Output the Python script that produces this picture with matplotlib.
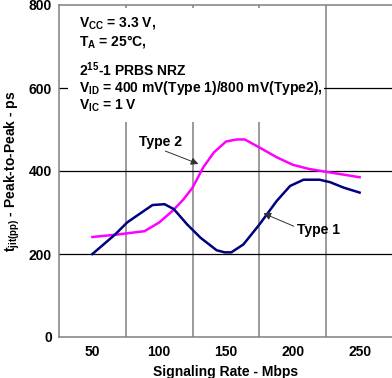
import matplotlib
matplotlib.use("Agg")
import matplotlib.pyplot as plt
from matplotlib.patches import Rectangle

plt.rcParams['font.family'] = ['Liberation Sans', 'DejaVu Sans']
plt.rcParams['font.weight'] = 'bold'
plt.rcParams['mathtext.fontset'] = 'custom'
plt.rcParams['mathtext.rm'] = 'Liberation Sans:bold'
plt.rcParams['mathtext.it'] = 'Liberation Sans:bold'
plt.rcParams['mathtext.bf'] = 'Liberation Sans:bold'
plt.rcParams['mathtext.default'] = 'rm'

# signaling rate (Mbps) vs peak-to-peak jitter (ps)
type1_x = [50, 67, 76, 85, 95, 104, 111, 121, 131, 143, 149, 154, 163, 175, 188, 198, 208, 220, 228, 238, 250]
type1_y = [200, 247, 276, 296, 318, 320, 308, 271, 239, 209, 204, 204, 223, 271, 328, 364, 379, 379, 373, 360, 348]
type2_x = [50, 69, 89, 100, 110, 118, 125, 133, 141, 150, 158, 164, 176, 188, 200, 212, 225, 250]
type2_y = [241, 247, 255, 276, 304, 331, 360, 409, 445, 471, 476, 476, 455, 433, 415, 405, 398, 385]

xticks = [50, 100, 150, 200, 250]
yticks = [0, 200, 400, 600, 800]
vgrid = [75, 125, 175, 225]
hgrid = [200, 400, 600]

notes = [r"V$_{CC}$ = 3.3 V,", r"T$_{A}$ = 25°C,", r"2$^{15}$-1 PRBS NRZ",
         r"V$_{ID}$ = 400 mV(Type 1)/800 mV(Type2),", r"V$_{IC}$ = 1 V"]
note_y = [749, 703, 628, 591, 547]

fs = 10

fig = plt.figure(figsize=(3.92, 3.78), dpi=100)
ax = fig.add_axes([59/392, 41/378, 334/392, 332/378])
ax.set_xlim(25, 275)
ax.set_ylim(0, 800)

for x in vgrid:
    ax.axvline(x, color='#808080', lw=1.1, zorder=1)
for y in hgrid:
    ax.axhline(y, color='black', lw=0.9, zorder=1)

# white background behind the condition notes
ax.add_patch(Rectangle((32, 519), 191, 274, facecolor='white', edgecolor='none', zorder=2))
for t, y in zip(notes, note_y):
    ax.text(40, y, t, fontsize=fs, fontweight='bold', va='baseline', ha='left', zorder=3)

ax.plot(type2_x, type2_y, color='#ff00ff', lw=1.8, zorder=4)
ax.plot(type1_x, type1_y, color='#000080', lw=1.8, zorder=4)

arrow = dict(arrowstyle='-|>', color='#303030', lw=0.7, mutation_scale=11, shrinkA=0, shrinkB=0)
ax.annotate('', xy=(129.4, 417), xytext=(104.6, 448), arrowprops=arrow, zorder=5)
ax.text(100.8, 460, 'Type 2', fontsize=fs, fontweight='bold', ha='center', va='baseline')
ax.annotate('', xy=(178, 298), xytext=(200.7, 267), arrowprops=arrow, zorder=5)
ax.text(219.4, 247, 'Type 1', fontsize=fs, fontweight='bold', ha='center', va='baseline')

ax.set_xticks(xticks)
ax.set_yticks(yticks)
ax.tick_params(axis='x', length=0, labelsize=fs, pad=6)
ax.tick_params(axis='y', length=0, labelsize=fs, pad=5)
for lab in ax.get_xticklabels() + ax.get_yticklabels():
    lab.set_fontweight('bold')
for s in ax.spines.values():
    s.set_color('#808080')
    s.set_linewidth(1.1)

ax.set_xlabel('Signaling Rate - Mbps', fontsize=fs, fontweight='bold', labelpad=4)
ax.set_ylabel(r"t$_{jit(pp)}$ - Peak-to-Peak - ps", fontsize=fs, fontweight='bold', labelpad=5)

fig.savefig('out.png', dpi=100)
